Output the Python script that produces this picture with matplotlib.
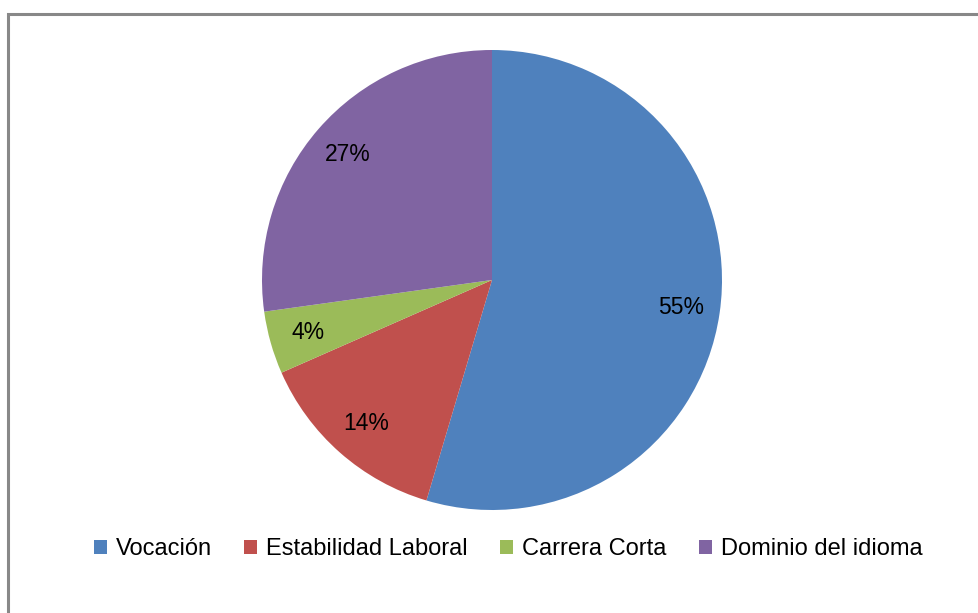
import matplotlib.pyplot as plt
from matplotlib.patches import Rectangle

categorias = ['Vocación', 'Estabilidad Laboral', 'Carrera Corta', 'Dominio del idioma']
porcentajes = [54.6, 13.8, 4.4, 27.2]
colores = ['#4F81BD', '#C0504D', '#9BBB59', '#8064A2']

plt.rcParams['font.family'] = ['Liberation Sans', 'DejaVu Sans']

fig = plt.figure(figsize=(9.79, 6.13), dpi=100)

# marco gris del grafico
fig.patches.append(Rectangle((8 / 979, -0.05), 1.1, 1 - 14 / 613 + 0.05,
                             transform=fig.transFigure, fill=False,
                             edgecolor='#888888', linewidth=2.2))

ax = fig.add_axes([(492 - 230) / 979, (613 - 510) / 613, 460 / 979, 460 / 613])
wedges, textos, autotextos = ax.pie(porcentajes, colors=colores, startangle=90,
                                    counterclock=False, radius=1,
                                    autopct=lambda p: f'{p:.0f}%', pctdistance=0.83,
                                    wedgeprops=dict(linewidth=0))
for t in autotextos:
    t.set_fontsize(16.5)
    t.set_color('black')
ax.set_xlim(-1, 1)
ax.set_ylim(-1, 1)
ax.set_aspect('equal')

fig.legend(wedges, categorias, loc='center', bbox_to_anchor=(0.519, 1 - 549 / 613),
           ncol=4, frameon=False, fontsize=17, handlelength=0.55, handleheight=0.55,
           handletextpad=0.4, columnspacing=1.35)

fig.savefig('out.png', dpi=100)
